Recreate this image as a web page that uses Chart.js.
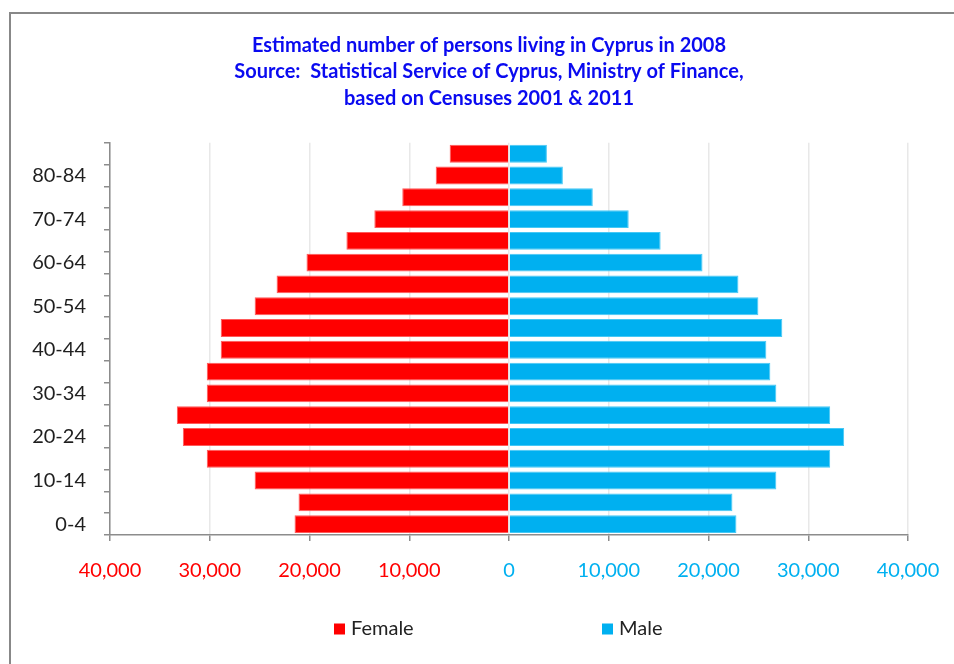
<!DOCTYPE html>
<html>
<head>
<meta charset="utf-8">
<script src="https://cdn.jsdelivr.net/npm/chart.js@4"></script>
<style>
  html, body { margin: 0; padding: 0; background: #fff; }
  #wrap { position: relative; width: 954px; height: 664px; overflow: hidden; }
  #frame { position: absolute; left: 9px; top: 12px; width: 980px; height: 700px;
           border-top: 2px solid #888; border-left: 2px solid #888; box-sizing: border-box; }
  canvas { position: absolute; left: 0; top: 0; }
</style>
</head>
<body>
<div id="wrap">
  <div id="frame"></div>
  <canvas id="chart-pyramid" width="954" height="664"></canvas>
</div>
<script>
// age groups, youngest first (axis is reversed so 0-4 sits at the bottom)
const ageGroups = ["0-4", "5-9", "10-14", "15-19", "20-24", "25-29", "30-34", "35-39", "40-44",
    "45-49", "50-54", "55-59", "60-64", "65-69", "70-74", "75-79", "80-84", "85+"];

// persons per age group
const femaleValues = [21500, 21100, 25500, 30300, 32700, 33300, 30300, 30300, 28900,
    28900, 25500, 23300, 20300, 16300, 13500, 10700, 7350, 5950];
const maleValues = [22800, 22400, 26800, 32200, 33600, 32200, 26800, 26200, 25800,
    27400, 25000, 23000, 19400, 15200, 12000, 8400, 5400, 3800];

const xTicks = [-40000, -30000, -20000, -10000, 0, 10000, 20000, 30000, 40000];

const titleLines = [
    "Estimated number of persons living in Cyprus in 2008",
    "Source:  Statistical Service of Cyprus, Ministry of Finance,",
    "based on Censuses 2001 & 2011"
];

const FONT = "Lato, 'Open Sans', sans-serif";
const RED = "#ff0000";
const BLUE = "#00b0f0";

// simple legend drawn under the axis, spaced like the original
const spreadLegend = {
    id: "spreadLegend",
    afterDraw(chart, args, opts) {
        const ctx = chart.ctx;
        ctx.save();
        ctx.font = "20px " + FONT;
        ctx.textBaseline = "middle";
        ctx.textAlign = "left";
        chart.data.datasets.forEach((ds, i) => {
            const x = opts.xs[i];
            ctx.fillStyle = ds.backgroundColor;
            ctx.fillRect(x, opts.y - 5.5, 11, 11);
            ctx.fillStyle = "#222";
            ctx.fillText(ds.label, x + 17, opts.y);
        });
        ctx.restore();
    }
};

const ctx = document.getElementById("chart-pyramid").getContext("2d");

new Chart(ctx, {
    type: "bar",
    data: {
        labels: ageGroups,
        datasets: [
            {
                label: "Female",
                data: femaleValues.map(v => -v),
                backgroundColor: RED,
                borderColor: "#ff5a5a",
                borderWidth: 1,
                barPercentage: 0.82,
                categoryPercentage: 1
            },
            {
                label: "Male",
                data: maleValues,
                backgroundColor: BLUE,
                borderColor: "#45c8f5",
                borderWidth: 1,
                barPercentage: 0.82,
                categoryPercentage: 1
            }
        ]
    },
    options: {
        indexAxis: "y",
        responsive: false,
        animation: false,
        layout: { padding: { top: 0, left: 30, right: 6, bottom: 69 } },
        scales: {
            x: {
                stacked: true,
                min: -40000,
                max: 40000,
                afterBuildTicks: scale => { scale.ticks = xTicks.map(v => ({ value: v })); },
                afterFit: scale => {
                    scale.height = 60;
                    scale.paddingLeft = 0;
                    scale.paddingRight = 0;
                },
                border: { color: "#8c8c8c", width: 1.5 },
                grid: { color: "#e8e8e8", lineWidth: 1.5, tickColor: "#8c8c8c", tickLength: 6 },
                ticks: {
                    padding: 18,
                    maxRotation: 0,
                    font: { family: FONT, size: 20 },
                    color: c => (c.tick && c.tick.value < 0 ? RED : BLUE),
                    callback: v => Math.abs(v).toLocaleString("en-US")
                }
            },
            y: {
                stacked: true,
                reverse: true,
                afterFit: scale => { scale.width = 80; },
                border: { color: "#8c8c8c", width: 1.5 },
                grid: { drawOnChartArea: false, color: "#8c8c8c", tickLength: 6, lineWidth: 1.5 },
                ticks: {
                    autoSkip: false,
                    padding: 18,
                    font: { family: FONT, size: 20 },
                    color: "#1f1f1f",
                    callback: function (v, i) { return i % 2 === 0 ? this.getLabelForValue(v) : ""; }
                }
            },
            // empty spacer on the right so the title centres like the original
            spacer: {
                type: "linear",
                position: "right",
                grid: { display: false },
                border: { display: false },
                ticks: { display: false },
                afterFit: scale => { scale.width = 40; }
            }
        },
        plugins: {
            legend: { display: false },
            tooltip: { enabled: false },
            title: {
                display: true,
                text: titleLines,
                color: "#0a0af0",
                font: { family: FONT, size: 20, weight: "bold", lineHeight: 1.33 },
                padding: { top: 32, bottom: 31 }
            },
            spreadLegend: { xs: [334, 602], y: 629 }
        }
    },
    plugins: [spreadLegend]
});
</script>
</body>
</html>
